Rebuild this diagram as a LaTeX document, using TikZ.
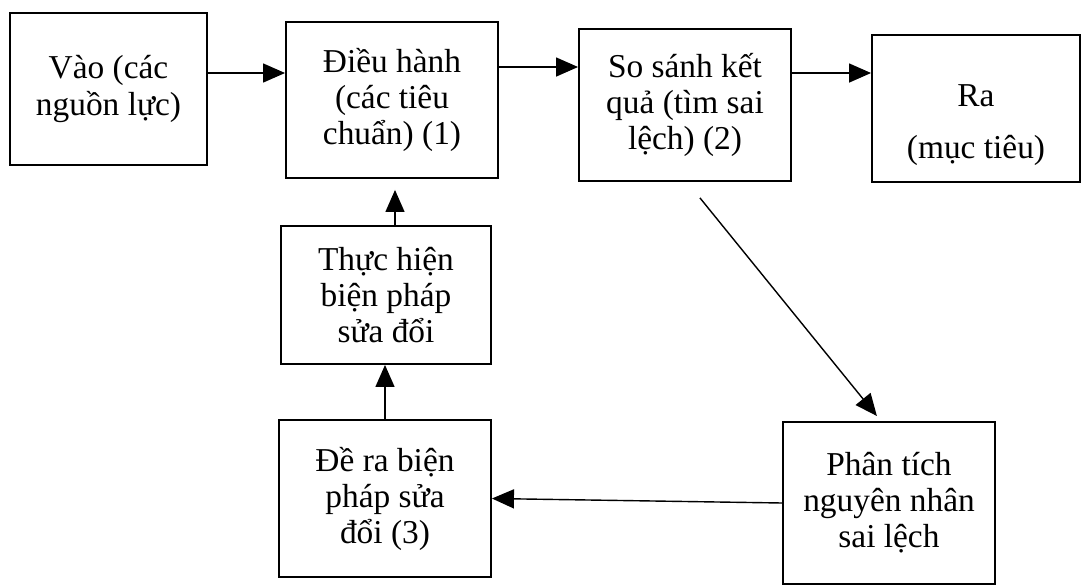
\documentclass[tikz,border=0pt]{standalone}
\usepackage{fontspec}
\setmainfont{Liberation Serif}
\usetikzlibrary{arrows.meta}

\begin{document}
\begin{tikzpicture}[
    x=0.02cm, y=-0.02cm,
    khoi/.style={draw, line width=1.1pt, align=center, inner sep=2pt,
      font=\fontsize{19}{20.5}\selectfont},
    mui/.style={-{Triangle[length=0.44cm,width=0.38cm]}, line width=0.8pt}
  ]
  \useasboundingbox (0,0) rectangle (1082,585);

  \node[khoi, minimum width=3.94cm, minimum height=3.04cm] (vao)      at (108.5,89)  {Vào (các\\nguồn lực)};
  \node[khoi, minimum width=4.24cm, minimum height=3.12cm] (dieuhanh) at (392,100)   {Điều hành\\(các tiêu\\chuẩn) (1)};
  \node[khoi, minimum width=4.24cm, minimum height=3.04cm] (sosanh)   at (685,105)   {So sánh kết\\quả (tìm sai\\lệch) (2)};
  \node[khoi, minimum width=4.16cm, minimum height=2.94cm] (ra)       at (976,108.5) {\rule{0pt}{1.1cm}Ra\\[0.32cm](mục tiêu)};
  \node[khoi, minimum width=4.20cm, minimum height=2.76cm] (thuchien) at (386,295)   {Thực hiện\\biện pháp\\sửa đổi};
  \node[khoi, minimum width=4.24cm, minimum height=3.14cm] (dera)     at (385,498.5) {Đề ra biện\\pháp sửa\\đổi (3)};
  \node[khoi, minimum width=4.24cm, minimum height=3.24cm] (phantich) at (889,503)   {Phân tích\\nguyên nhân\\sai lệch};

  \coordinate (p1) at ([yshift=0.32cm]vao.east);
  \coordinate (p2) at ([yshift=0.66cm]dieuhanh.east);
  \coordinate (p3) at ([yshift=0.64cm]sosanh.east);
  \coordinate (p4) at ([xshift=0.18cm]thuchien.north);

  \draw[mui] (p1) -- (p1 -| dieuhanh.west);
  \draw[mui] (p2) -- (p2 -| sosanh.west);
  \draw[mui] (p3) -- (p3 -| ra.west);
  \draw[mui, shorten >=0.22cm] (p4) -- (p4 |- dieuhanh.south);
  \draw[mui] (dera.north) -- (dera.north |- thuchien.south);
  \draw[mui] (phantich.west) -- (dera.east);
  \draw[mui, shorten <=0.41cm, shorten >=0.13cm] ([xshift=0.04cm]sosanh.south) -- ([xshift=-0.16cm]phantich.north);
\end{tikzpicture}
\end{document}
